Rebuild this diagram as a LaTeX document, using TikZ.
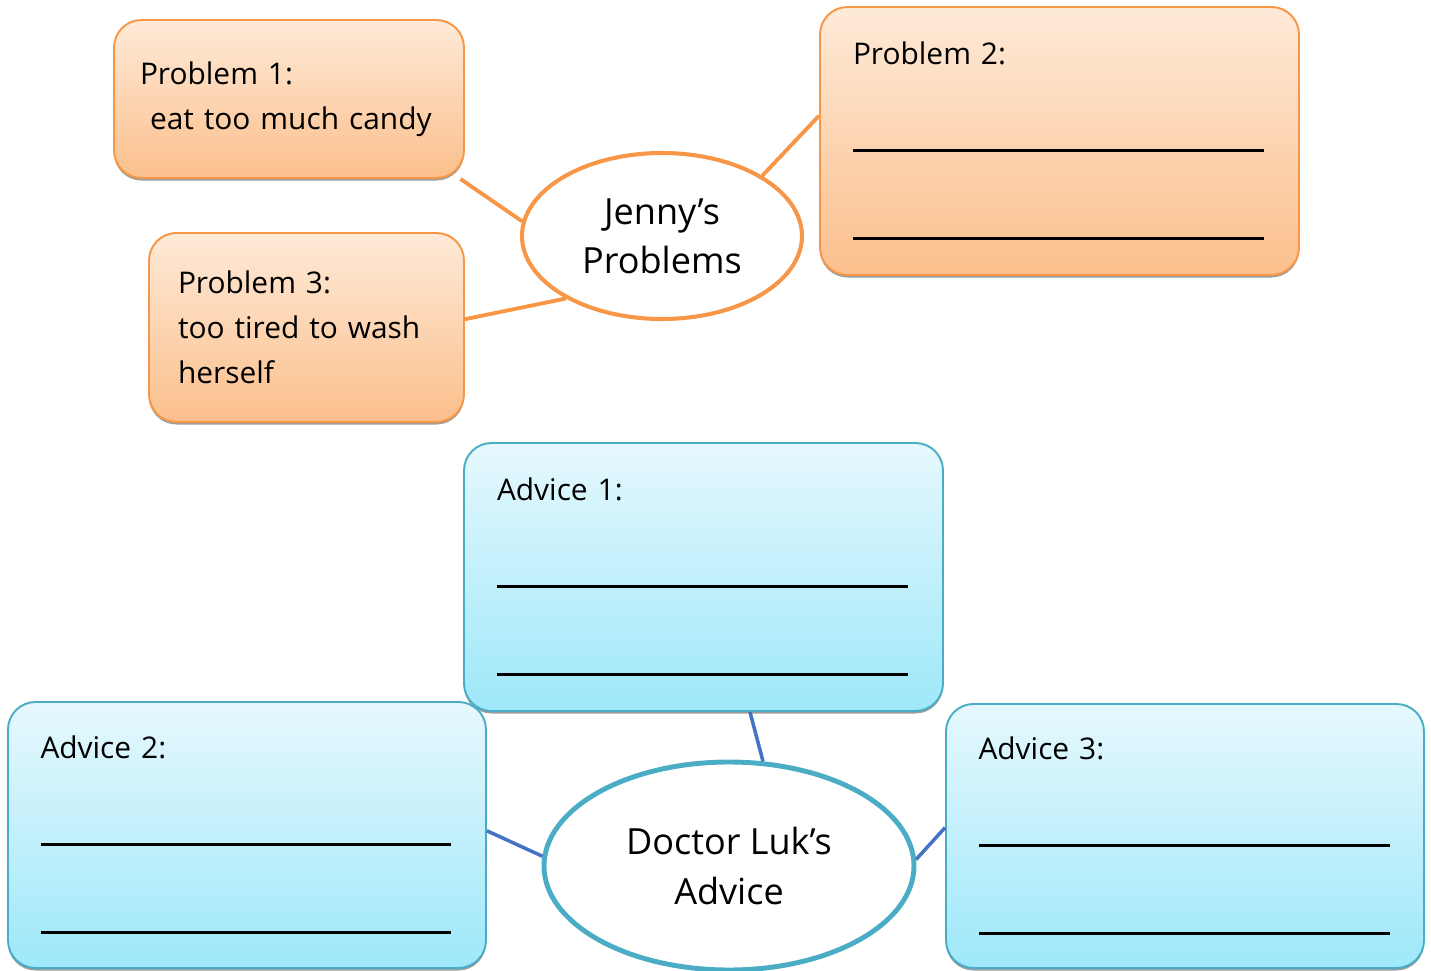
\documentclass[tikz,border=0pt]{standalone}
\usepackage{fontspec}
\setmainfont{Open Sans}
\usetikzlibrary{shapes,shadows,positioning}
\definecolor{pborder}{RGB}{247,150,70}
\definecolor{ptop}{RGB}{254,234,216}
\definecolor{pbottom}{RGB}{251,191,140}
\definecolor{aborder}{RGB}{75,172,198}
\definecolor{atop}{RGB}{230,248,253}
\definecolor{abottom}{RGB}{158,232,250}
\definecolor{alink}{RGB}{68,114,196}
\tikzstyle{problem} = [rectangle, rounded corners=0.55cm, draw=pborder, line width=1.1pt, top color=ptop, bottom color=pbottom, align=left, text width=8.26cm, font=\fontsize{17}{25.5}\selectfont, drop shadow={shadow xshift=0pt, shadow yshift=-0.05cm, fill=black!55, opacity=0.7}]
\tikzstyle{advice} = [problem, draw=aborder, top color=atop, bottom color=abottom]
\tikzstyle{hub} = [ellipse, fill=white, align=center, font=\fontsize{20.5}{28}\selectfont]
\tikzstyle{plink} = [line width=2.2pt, color=pborder]
\tikzstyle{alinkline} = [line width=2pt, color=alink]
\newcommand{\answerline}{\rule{8.22cm}{0.06cm}}

\begin{document}
\begin{tikzpicture}
    \useasboundingbox (0,0) rectangle (28.62,-19.42);

    % problems around Jenny
    \node[hub, draw=pborder, line width=2.3pt, minimum width=5.6cm, minimum height=3.32cm] (jenny) at (13.24,-4.72) {Jenny's\\Problems};
    \node[problem, text width=5.96cm, minimum width=7cm, minimum height=3.16cm] (prob1) at (5.78,-1.98)
        {Problem 1:\\\hspace*{0.2cm}eat too much candy};
    \node[problem, minimum width=9.58cm, minimum height=5.36cm] (prob2) at (21.19,-2.82)
        {Problem 2:\\[0.86cm]\answerline\\[0.86cm]\answerline};
    \node[problem, text width=5.14cm, minimum width=6.3cm, minimum height=3.78cm] (prob3) at (6.13,-6.55)
        {Problem 3:\\too tired to wash\\herself};

    \draw[plink] (prob1.-25) -- (jenny.174);
    \draw[plink] (prob2.174.5) -- (jenny.31.5);
    \draw[plink] (prob3.3.5) -- (jenny.213);

    % advice around the doctor
    \node[hub, draw=aborder, line width=2.8pt, minimum width=7.4cm, minimum height=4.16cm] (doctor) at (14.58,-17.32) {Doctor Luk's\\Advice};
    \node[advice, minimum width=9.58cm, minimum height=5.36cm] (adv1) at (14.07,-11.54)
        {Advice 1:\\[0.86cm]\answerline\\[0.86cm]\answerline};
    \node[advice, minimum width=9.56cm, minimum height=5.32cm] (adv2) at (4.94,-16.70)
        {Advice 2:\\[0.86cm]\answerline\\[0.86cm]\answerline};
    \node[advice, minimum width=9.56cm, minimum height=5.28cm] (adv3) at (23.70,-16.72)
        {Advice 3:\\[0.86cm]\answerline\\[0.86cm]\answerline};

    \draw[alinkline] (adv1.-71.6) -- (doctor.72.7);
    \draw[alinkline] (adv2.1.2) -- (doctor.177.2);
    \draw[alinkline] (adv3.178.6) -- (doctor.2.5);
\end{tikzpicture}
\end{document}
